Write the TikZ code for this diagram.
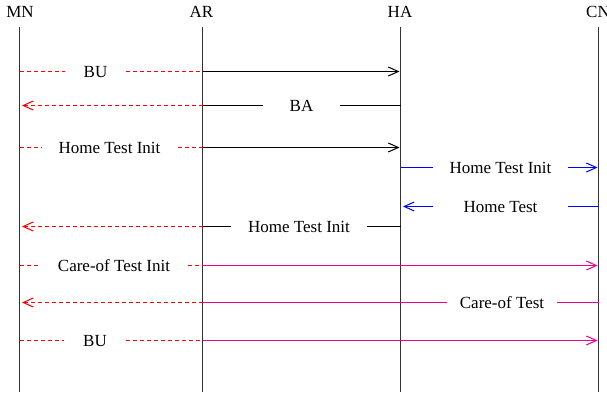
\documentclass[tikz,border=0pt]{standalone}
\usepackage{fontspec}
\setmainfont{Liberation Serif}
\usetikzlibrary{arrows.meta}

\begin{document}
\begin{tikzpicture}[x=1pt,y=-1pt,
  every node/.style={font=\fontsize{17}{20}\selectfont, inner sep=0pt},
  head/.style={anchor=base},
  lifeline/.style={line width=1pt, draw=black!80},
  msg/.style={text height=11.2pt, text depth=0pt, inner sep=0pt},
  plain/.style={line width=1pt},
  redd/.style={plain, red, dash pattern=on 4pt off 3pt},
  magl/.style={plain, magenta},
  bluel/.style={plain, blue},
  rtip/.style={-{Straight Barb[length=10pt,width=9pt]}, shorten >=1pt},
  ltip/.style={-{Straight Barb[length=10pt,width=9pt]}, shorten >=2.5pt},
]
\useasboundingbox (0,0) rectangle (607,394);

% entity heads and lifelines
\node[head] (mn) at (20,17) {MN};
\node[head] (ar) at (201.5,17) {AR};
\node[head] (ha) at (400,17) {HA};
\node[head] (cn) at (598,17) {CN};
\coordinate (mnT) at (19.5,27);  \coordinate (mnB) at (19.5,392);
\coordinate (arT) at (202.5,27); \coordinate (arB) at (202.5,392);
\coordinate (haT) at (400.5,27); \coordinate (haB) at (400.5,392);
\coordinate (cnT) at (598.5,27); \coordinate (cnB) at (598.5,392);
\draw[lifeline] (mnT) -- (mnB);
\draw[lifeline] (arT) -- (arB);
\draw[lifeline] (haT) -- (haB);
\draw[lifeline] (cnT) -- (cnB);

% BU
\node[msg, minimum width=61pt] (l1) at (95.5,71.5) {BU};
\draw[redd] (mnT |- l1) -- (l1.west);
\draw[redd] (l1.east) -- (arT |- l1);
\draw[plain, rtip] (arT |- l1) -- (haT |- l1);

% BA
\node[msg, minimum width=77pt] (l2) at (301.5,105.5) {BA};
\draw[plain] (haT |- l2) -- (l2.east);
\draw[plain] (l2.west) -- (arT |- l2);
\draw[redd, ltip] (arT |- l2) -- (mnT |- l2);

% Home Test Init towards HA
\node[msg, minimum width=137pt] (l3) at (109.5,147.5) {Home Test Init};
\draw[redd] (mnT |- l3) -- (l3.west);
\draw[redd] (l3.east) -- (arT |- l3);
\draw[plain, rtip] (arT |- l3) -- (haT |- l3);

% Home Test Init HA to CN
\node[msg, minimum width=135pt] (l4) at (500.5,167.5) {Home Test Init};
\draw[bluel] (haT |- l4) -- (l4.west);
\draw[bluel, rtip] (l4.east) -- (cnT |- l4);

% Home Test CN to HA
\node[msg, minimum width=135pt] (l5) at (500.5,206.5) {Home Test};
\draw[bluel] (cnT |- l5) -- (l5.east);
\draw[bluel, ltip] (l5.west) -- (haT |- l5);

% Home Test Init forwarded to MN
\node[msg, minimum width=136pt] (l6) at (299,226.5) {Home Test Init};
\draw[plain] (haT |- l6) -- (l6.east);
\draw[plain] (l6.west) -- (arT |- l6);
\draw[redd, ltip] (arT |- l6) -- (mnT |- l6);

% Care-of Test Init
\node[msg, minimum width=148pt] (l7) at (114,265.5) {Care-of Test Init};
\draw[redd] (mnT |- l7) -- (l7.west);
\draw[redd] (l7.east) -- (arT |- l7);
\draw[magl, rtip] (arT |- l7) -- (cnT |- l7);

% Care-of Test
\node[msg, minimum width=110pt] (l8) at (502,302.5) {Care-of Test};
\draw[magl] (cnT |- l8) -- (l8.east);
\draw[magl] (l8.west) -- (arT |- l8);
\draw[redd, ltip] (arT |- l8) -- (mnT |- l8);

% BU to CN
\node[msg, minimum width=62pt] (l9) at (95,340.5) {BU};
\draw[redd] (mnT |- l9) -- (l9.west);
\draw[redd] (l9.east) -- (arT |- l9);
\draw[magl, rtip] (arT |- l9) -- (cnT |- l9);
\end{tikzpicture}
\end{document}
